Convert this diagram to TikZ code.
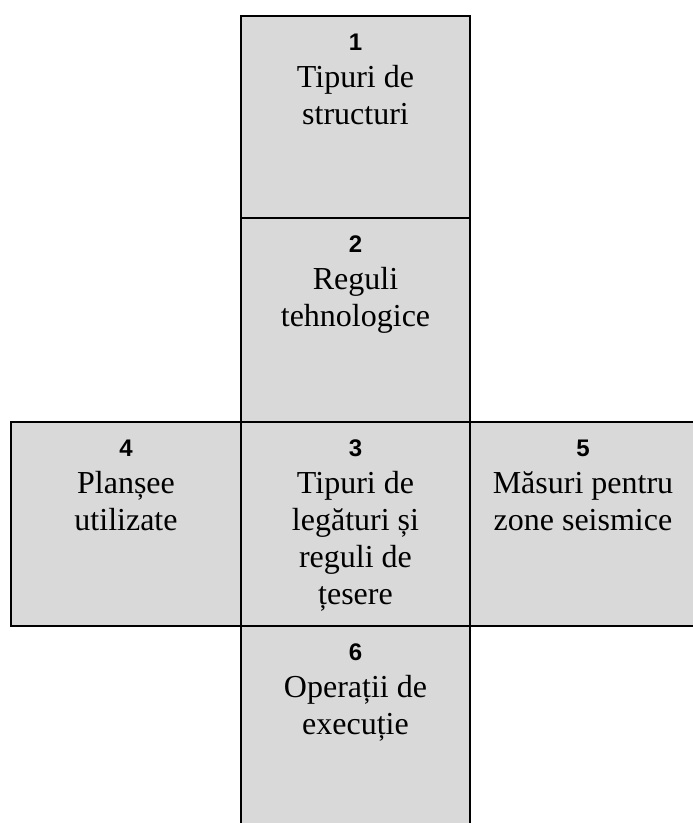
\documentclass[tikz,border=0pt]{standalone}
\usepackage{fontspec}
\setmainfont{Liberation Serif}
\newfontfamily\numfont{Liberation Sans}
\usetikzlibrary{positioning}
\definecolor{boxgray}{HTML}{D9D9D9}
\tikzset{
    cell/.style={draw=black, line width=1.6pt, fill=boxgray, rectangle, inner sep=0pt},
    cellnum/.style={anchor=base, inner sep=0pt, font=\numfont\bfseries\fontsize{24}{28}\selectfont},
    celltext/.style={anchor=north, align=center, inner sep=0pt, font=\fontsize{32}{37}\selectfont},
}

\begin{document}
\begin{tikzpicture}[x=1pt, y=-1pt]
    \useasboundingbox (0,0) rectangle (693,823);
    % the cross of boxes
    \node [cell, minimum width=229pt, minimum height=202pt] (structuri) at (355.5,117) {};
    \node [cell, minimum width=229pt, minimum height=204pt] (reguli) at (355.5,320) {};
    \node [cell, minimum width=229pt, minimum height=204pt] (legaturi) at (355.5,524) {};
    \node [cell, minimum width=230pt, minimum height=204pt] (plansee) at (126,524) {};
    \node [cell, minimum width=226pt, minimum height=204pt] (seismice) at (583,524) {};
    \node [cell, minimum width=229pt, minimum height=204pt] (executie) at (355.5,728) {};
    % numbers and texts
    \foreach \cellname/\num in {structuri/1, reguli/2, legaturi/3, plansee/4, seismice/5, executie/6}
        \node [cellnum] (num\num) at ([yshift=-35pt]\cellname.north) {\num};
    \node [celltext] (text1) at ([yshift=-50pt]structuri.north) {Tipuri de\\structuri};
    \node [celltext] (text2) at ([yshift=-50pt]reguli.north) {Reguli\\tehnologice};
    \node [celltext] (text3) at ([yshift=-50pt]legaturi.north) {Tipuri de\\legături și\\reguli de\\țesere};
    \node [celltext] (text4) at ([yshift=-50pt]plansee.north) {Planșee\\utilizate};
    \node [celltext] (text5) at ([yshift=-50pt]seismice.north) {Măsuri pentru\\zone seismice};
    \node [celltext] (text6) at ([yshift=-50pt]executie.north) {Operații de\\execuție};
\end{tikzpicture}
\end{document}
